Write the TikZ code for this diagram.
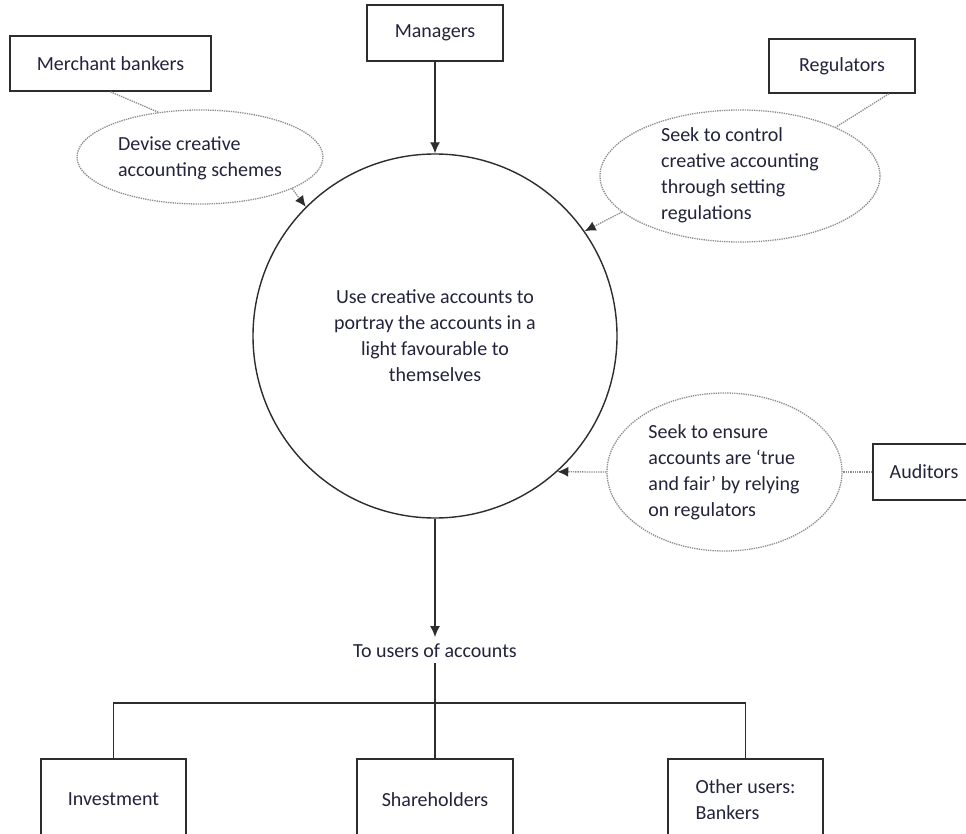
\documentclass[tikz,border=0pt]{standalone}
\usepackage{fontspec}
\setmainfont{Carlito}
\usetikzlibrary{arrows.meta,shapes.geometric}
\definecolor{txt}{RGB}{35,35,60}
\definecolor{ln}{RGB}{45,45,45}
\definecolor{dotc}{RGB}{140,140,140}
\begin{document}
\begin{tikzpicture}[x=1pt,y=-1pt,
  every node/.style={font=\fontsize{20}{26}\selectfont, text=txt},
  box/.style={draw=ln, line width=1.6pt, rectangle, inner sep=0pt},
  bubble/.style={draw=dotc, densely dotted, line width=1.3pt, ellipse, inner sep=0pt},
  arr/.style={-{Latex[length=11pt,width=10pt]}, draw=ln, line width=1.3pt},
  darr/.style={-{Latex[length=11pt,width=10pt,color=ln]}, draw=dotc, densely dotted, line width=1.3pt},
  conn/.style={draw=ln, line width=1.6pt},
  dline/.style={draw=dotc, densely dotted, line width=1.3pt}]
\fill[white] (0,0) rectangle (966,834);
\clip (0,0) rectangle (966,834);

% top boxes
\node[box, minimum width=201pt, minimum height=55pt] (mb) at (110.5,63.5) {Merchant bankers};
\node[box, minimum width=136pt, minimum height=56pt] (man) at (435,33) {Managers};
\node[box, minimum width=146pt, minimum height=54pt] (rb) at (842,66) {Regulators};
\node[box, minimum width=102pt, minimum height=56pt] (ab) at (924,472) {Auditors};

% central circle
\node[circle, draw=ln, line width=1.4pt, minimum size=364pt, inner sep=0pt, align=center] (main) at (435,336)
  {Use creative accounts to\\portray the accounts in a\\light favourable to\\themselves};

% bubbles
\node[bubble, minimum width=246pt, minimum height=94pt] (me) at (200,157) {};
\node[align=left, inner sep=0pt] (met) at (200,158.5) {Devise creative\\accounting schemes};
\node[bubble, minimum width=280pt, minimum height=132pt] (re) at (740,176) {};
\node[align=left, inner sep=0pt] (ret) at (740,175) {Seek to control\\creative accounting\\through setting\\regulations};
\node[bubble, minimum width=235pt, minimum height=158pt] (ae) at (724.5,472) {};
\node[align=left, inner sep=0pt] (aet) at (724,472) {Seek to ensure\\accounts are ‘true\\and fair’ by relying\\on regulators};

% connectors to circle
\draw[arr] (man.south) -- (main.north);
\draw[dline] (mb.south) -- (me.133);
\draw[darr] (me.-19.5) -- (main.135);
\draw[dline] ([xshift=-27pt]rb.south east) -- (re.27);
\draw[darr] (re.197.4) -- (main.35.5);
\draw[dline] (ab.west) -- (ae.east);
\draw[darr] (ae.west) -- (main.-48);

% users
\node[anchor=base, inner sep=6pt] (tu) at (435,657) {To users of accounts};
\draw[arr] (main.south) -- (tu.north);
\coordinate (hub) at (435,703);
\node[box, minimum width=145pt, minimum height=81pt] (inv) at (113.5,799.5) {Investment};
\node[box, minimum width=156pt, minimum height=81pt] (sh) at (435,799.5) {Shareholders};
\node[box, minimum width=155pt, minimum height=81pt, align=left] (oth) at (745.5,799.5) {Other users:\\Bankers};
\draw[conn] (tu.south) -- (hub);
\draw[conn] (inv.north) |- (hub) -| (oth.north);
\draw[conn] (hub) -- (sh.north);
\end{tikzpicture}
\end{document}
